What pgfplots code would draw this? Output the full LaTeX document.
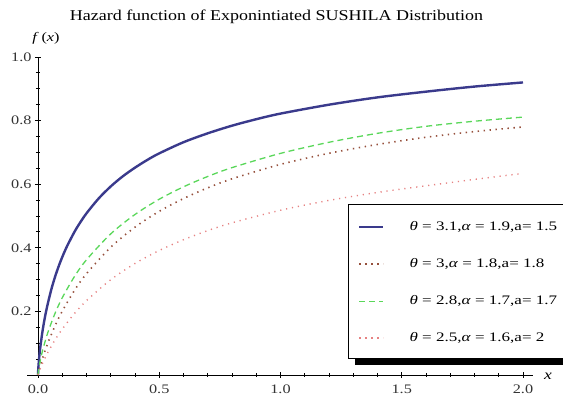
\documentclass[border=0pt]{standalone}
\usepackage{fontspec}
\setmainfont{Liberation Serif}
\usepackage{graphicx}
\usepackage{pgfplots}
\pgfplotsset{compat=1.18}
\definecolor{cblue}{RGB}{58,58,140}
\definecolor{cbrown}{RGB}{150,80,60}
\definecolor{cgreen}{RGB}{90,215,90}
\definecolor{cpink}{RGB}{230,130,130}
\newcommand{\sx}[1]{\scalebox{1.25}[1]{#1}}
\newcommand{\sxl}[1]{\scalebox{1.31}[1]{#1}}
\begin{document}
\begin{tikzpicture}
% legend frame with its shadow
\fill[black] (328pt,10pt) rectangle (562pt,164pt);
\filldraw[fill=white, draw=black, line width=0.8pt] (321pt,17pt) rectangle (556pt,171pt);
\begin{axis}[
  at={(11pt,0pt)}, anchor=south west,
  scale only axis, width=494.7pt, height=318pt,
  xmin=0, xmax=2.04, ymin=0, ymax=1.0,
  axis x line=bottom, axis y line=left, axis line style={-, line width=0.8pt, black},
  clip=false,
  xtick={0,0.5,1,1.5,2}, xticklabels={\sx{0.0},\sx{0.5},\sx{1.0},\sx{1.5},\sx{2.0}},
  ytick={0.2,0.4,0.6,0.8,1.0}, yticklabels={\sx{0.2},\sx{0.4},\sx{0.6},\sx{0.8},\sx{1.0}},
  minor xtick={0.1,0.2,0.3,0.4,0.6,0.7,0.8,0.9,1.1,1.2,1.3,1.4,1.6,1.7,1.8,1.9},
  minor ytick={0.05,0.1,0.15,0.25,0.3,0.35,0.45,0.5,0.55,0.65,0.7,0.75,0.85,0.9,0.95},
  major tick length=6pt, minor tick length=4pt,
  every tick/.style={black, line width=0.8pt},
  tick label style={font=\fontsize{13}{15}\selectfont, text=black!80},
  xticklabel style={yshift=-3pt},
  legend style={at={(0.6468,0.4843)}, anchor=north west, draw=none, fill=none,
    inner sep=0pt, row sep=25pt, column sep=0pt,
    nodes={inner sep=0pt, text height=9pt, text depth=3pt},
    font=\fontsize{13}{15}\selectfont},
  legend cell align=left,
  legend image code/.code={\draw[#1] (0pt,0pt) -- (24pt,0pt); \path (49pt,0pt);},
]
\draw[black, line width=0.8pt] (axis cs:-0.045,0) -- (axis cs:0,0);
\addplot[cblue, line width=2.4pt, smooth] coordinates {
(0,0) (0.001,0.0173) (0.003,0.0387) (0.005,0.0558) (0.01,0.0907) (0.02,0.1447) (0.03,0.1874)
(0.04,0.223) (0.055,0.2693) (0.07,0.308) (0.085,0.3413) (0.1,0.3708) (0.12,0.4054)
(0.15,0.4496) (0.17,0.4749) (0.2,0.5084) (0.25,0.555) (0.3,0.593) (0.35,0.625) (0.4,0.652)
(0.45,0.676) (0.5,0.697) (0.6,0.732) (0.7,0.760) (0.8,0.784) (0.9,0.8043) (1.0,0.822)
(1.2,0.850) (1.4,0.873) (1.6,0.891) (1.8,0.907) (2.0,0.920)};
\addlegendentry{\sxl{\textit{θ} = 3.1,\textit{α} = 1.9,a= 1.5}}
\addplot[cbrown, line width=1.6pt, dash pattern=on 1.4pt off 4.6pt, smooth] coordinates {
(0,0) (0.001,0.004) (0.005,0.0167) (0.01,0.0307) (0.02,0.0558) (0.04,0.0993) (0.07,0.1542)
(0.1,0.2007) (0.15,0.2655) (0.2,0.3186) (0.3,0.4019) (0.4,0.4649) (0.5,0.5147) (0.6,0.5549)
(0.7,0.5885) (0.8,0.6169) (1.0,0.6623) (1.2,0.6972) (1.4,0.7250) (1.6,0.7476) (1.8,0.7655) (2.0,0.780)};
\addlegendentry{\sxl{\textit{θ} = 3,\textit{α} = 1.8,a= 1.8}}
\addplot[cgreen, line width=1.3pt, dash pattern=on 6pt off 4pt, smooth] coordinates {
(0,0) (0.001,0.0078) (0.005,0.0278) (0.01,0.0475) (0.02,0.0801) (0.04,0.1323) (0.07,0.1935)
(0.1,0.2429) (0.15,0.3092) (0.2,0.3623) (0.3,0.4438) (0.4,0.5048) (0.5,0.5528) (0.6,0.5917)
(0.7,0.6243) (0.8,0.6521) (1.0,0.6969) (1.2,0.7318) (1.4,0.7600) (1.6,0.7820) (1.8,0.798) (2.0,0.811)};
\addlegendentry{\sxl{\textit{θ} = 2.8,\textit{α} = 1.7,a= 1.7}}
\addplot[cpink, line width=1.4pt, dash pattern=on 1.2pt off 4.8pt, smooth] coordinates {
(0,0) (0.001,0.0028) (0.005,0.0116) (0.01,0.0214) (0.02,0.0391) (0.04,0.0701) (0.07,0.1100)
(0.1,0.1443) (0.15,0.1931) (0.2,0.2339) (0.3,0.2996) (0.4,0.3506) (0.5,0.3916) (0.6,0.4254)
(0.7,0.4540) (0.8,0.4785) (1.0,0.5181) (1.2,0.5491) (1.4,0.5741) (1.6,0.5950) (1.8,0.615) (2.0,0.634)};
\addlegendentry{\sxl{\textit{θ} = 2.5,\textit{α} = 1.6,a= 2}}
\end{axis}
\node[font=\fontsize{15}{18}\selectfont, anchor=base] at (249.5pt,354pt) {\scalebox{1.2}[1]{Hazard function of Exponintiated SUSHILA Distribution}};
\node[font=\fontsize{13}{15}\selectfont] at (19pt,337pt) {\sx{\textit{f}\,(\textit{x})}};
\node[font=\fontsize{14}{15}\selectfont] at (521pt,-1pt) {\sx{\textit{x}}};
\pgfresetboundingbox
\path[use as bounding box] (-27pt,-23pt) rectangle (536pt,375pt);
\end{tikzpicture}
\end{document}
